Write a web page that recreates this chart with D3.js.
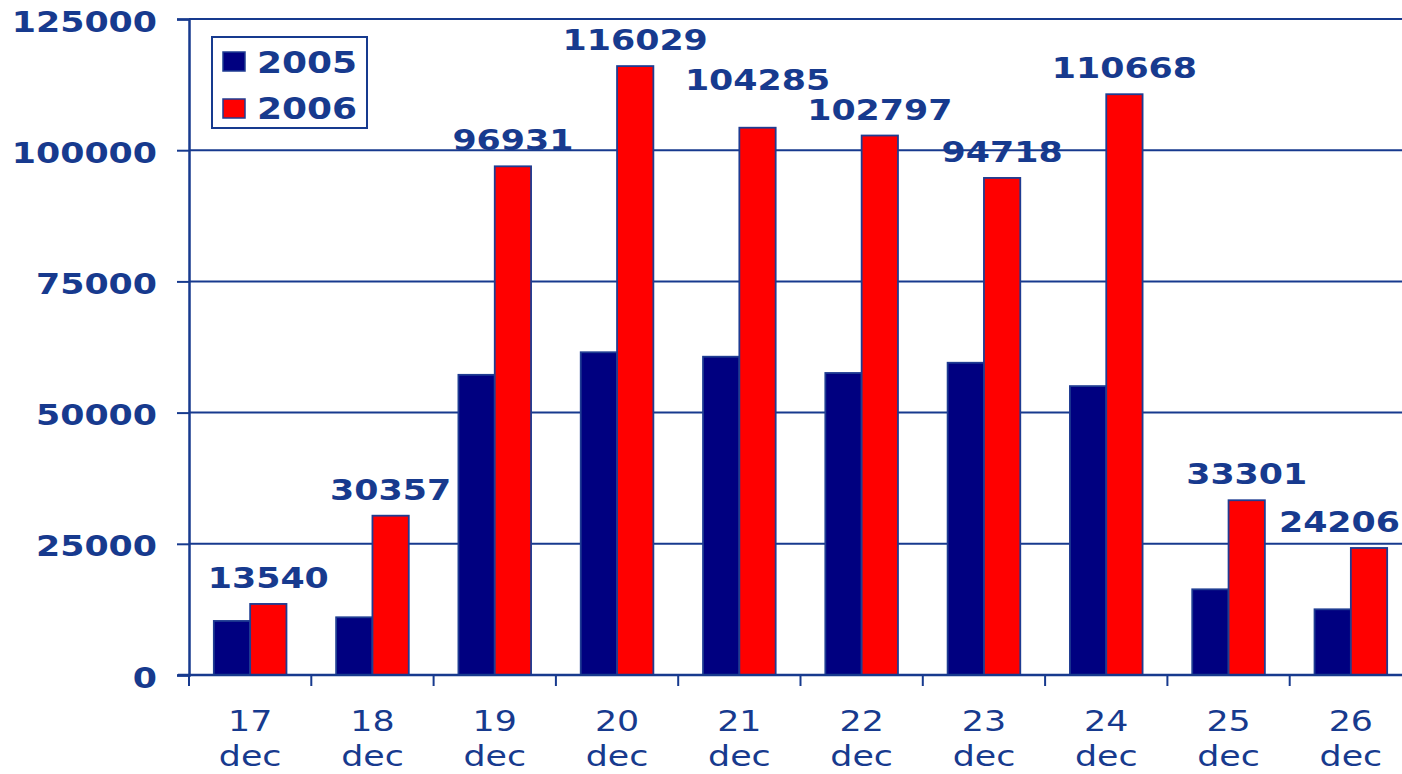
<!DOCTYPE html>
<html><head><meta charset="utf-8">
<script src="https://cdn.jsdelivr.net/npm/d3@7"></script>
<style>html,body{margin:0;padding:0;background:#fff;overflow:hidden}</style>
</head><body>
<svg id="chart" width="1402" height="774"></svg>
<script>
const days = ["17","18","19","20","21","22","23","24","25","26"];
const monthLabel = "dec";
const seriesNames = ["2005","2006"];
const values2005 = [10300, 11000, 57200, 61500, 60650, 57550, 59500, 55050, 16330, 12520];
const values2006 = [13540, 30357, 96931, 116029, 104285, 102797, 94718, 110668, 33301, 24206];
const yTicks = [0, 25000, 50000, 75000, 100000, 125000];

const colors = ["#000080", "#ff0000"];
const ink = "#173a8e";
const SX = 1.2;
const W = 1402;

const svg = d3.select("#chart");
const x = d3.scaleBand().domain(days).range([189, 1412]).paddingInner(0.406).paddingOuter(0.203);
const xs = d3.scaleBand().domain(seriesNames).range([0, x.bandwidth()]);
const y = d3.scaleLinear().domain([0, 125000]).range([675, 19]);

// gridlines
svg.append("g").selectAll("line").data(yTicks.filter(d => d > 0)).join("line")
  .attr("x1", 189).attr("x2", W).attr("y1", d => y(d)).attr("y2", d => y(d))
  .attr("stroke", ink).attr("stroke-width", 2);

// y axis
const yAxis = svg.append("g").attr("transform", "translate(189,0)")
  .call(d3.axisLeft(y).tickValues(yTicks).tickSize(12).tickPadding(0).tickFormat(d3.format("d")));
yAxis.select(".domain").attr("stroke", ink).attr("stroke-width", 2.5);
yAxis.selectAll(".tick line").attr("stroke", ink).attr("stroke-width", 2);
yAxis.selectAll(".tick text")
  .attr("x", -32 / SX).attr("dy", "0.42em")
  .attr("transform", `scale(${SX},1)`)
  .attr("fill", ink).attr("font-family", "DejaVu Sans").attr("font-weight", "bold").attr("font-size", 29);

// bars
const rows = days.map((d, i) => ({day: d, vals: [values2005[i], values2006[i]]}));
const groups = svg.append("g").selectAll("g").data(rows).join("g")
  .attr("transform", d => `translate(${x(d.day)},0)`);
groups.selectAll("rect").data(d => d.vals.map((v, k) => ({k, v}))).join("rect")
  .attr("x", d => xs(seriesNames[d.k])).attr("width", xs.bandwidth())
  .attr("y", d => y(d.v)).attr("height", d => y(0) - y(d.v))
  .attr("fill", d => colors[d.k]).attr("stroke", "#1f3c92").attr("stroke-width", 1.8);

// value labels over 2006 bars, with simple collision avoidance
const labels = svg.append("g").selectAll("text").data(rows).join("text")
  .attr("text-anchor", "middle").attr("fill", ink)
  .attr("font-family", "DejaVu Sans").attr("font-weight", "bold").attr("font-size", 29)
  .text(d => d.vals[1]);
const L = [];
labels.each(function(d) {
  const w = this.getBBox().width * SX;
  let cx = x(d.day) + xs("2006") + xs.bandwidth() / 2;
  if (cx + w / 2 > W - 2) cx = W - 2 - w / 2;
  L.push({el: this, cx, by: y(d.vals[1]) - 16, w, v: d.vals[1]});
});
for (let i = 0; i < L.length - 1; i++) {
  const a = L[i], b = L[i + 1];
  const hOverlap = (a.cx + a.w / 2) > (b.cx - b.w / 2) - 4;
  if (hOverlap && Math.abs(a.by - b.by) < 28) {
    if (a.v > b.v) a.by = b.by - 30; else b.by = a.by - 30;
  }
}
L.forEach(l => d3.select(l.el).attr("transform", `translate(${l.cx},${l.by}) scale(${SX},1)`));

// x axis baseline
svg.append("line").attr("x1", 178).attr("x2", W).attr("y1", y(0)).attr("y2", y(0))
  .attr("stroke", ink).attr("stroke-width", 2.5);
// x ticks at band boundaries
const bounds = days.map(d => x(d) - x.step() * 0.203);
svg.append("g").selectAll("line").data(bounds).join("line")
  .attr("x1", d => d).attr("x2", d => d).attr("y1", y(0)).attr("y2", y(0) + 11)
  .attr("stroke", ink).attr("stroke-width", 2);
// x labels
const xl = svg.append("g").selectAll("g").data(days).join("g")
  .attr("transform", d => `translate(${x(d) + x.bandwidth() / 2},0)`);
xl.append("text").attr("transform", `translate(0,731) scale(${SX},1)`)
  .attr("text-anchor", "middle").attr("fill", ink).attr("font-family", "DejaVu Sans").attr("font-size", 29)
  .text(d => d);
xl.append("text").attr("transform", `translate(0,766) scale(${SX},1)`)
  .attr("text-anchor", "middle").attr("fill", ink).attr("font-family", "DejaVu Sans").attr("font-size", 29)
  .text(monthLabel);

// legend
const lg = svg.append("g");
lg.append("rect").attr("x", 212).attr("y", 37).attr("width", 155).attr("height", 91)
  .attr("fill", "#fff").attr("stroke", ink).attr("stroke-width", 2);
seriesNames.forEach((s, i) => {
  lg.append("rect").attr("x", 223).attr("y", 52 + i * 47).attr("width", 22).attr("height", 19)
    .attr("fill", colors[i]).attr("stroke", "#1f3c92").attr("stroke-width", 1.5);
  lg.append("text").attr("transform", `translate(257,${73 + i * 46}) scale(${SX},1)`)
    .attr("fill", ink).attr("font-family", "DejaVu Sans").attr("font-weight", "bold").attr("font-size", 30)
    .text(s);
});
</script>
</body></html>
